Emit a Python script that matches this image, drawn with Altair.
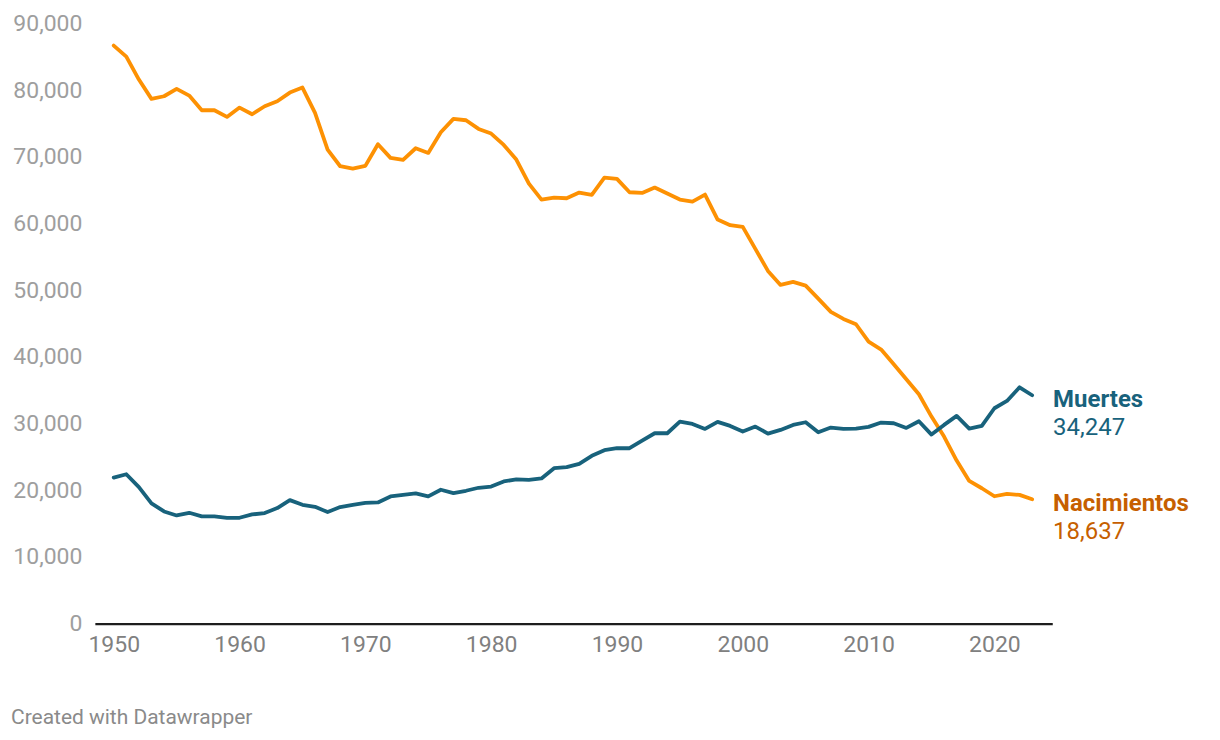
import altair as alt
import pandas as pd

years = list(range(1950, 2024))

nacimientos = [
    86700, 85050, 81600, 78700, 79100, 80200, 79200, 77000, 77000, 76000,
    77400, 76400, 77600, 78350, 79650, 80400, 76600, 71100, 68600, 68250,
    68650, 71900, 69850, 69550, 71300, 70600, 73700, 75700, 75500, 74200,
    73500, 71800, 69600, 66000, 63600, 63900, 63800, 64650, 64300, 66900,
    66700, 64700, 64600, 65400, 64500, 63600, 63300, 64350, 60600, 59750,
    59500, 56200, 52900, 50800, 51250, 50700, 48750, 46750, 45700, 44900,
    42300, 41100, 38900, 36650, 34400, 31050, 28050, 24450, 21400, 20300,
    19100, 19450, 19300, 18637,
]

muertes = [
    21900, 22400, 20470, 18020, 16820, 16220, 16620, 16070, 16070, 15870,
    15870, 16370, 16570, 17320, 18520, 17820, 17520, 16720, 17470, 17820,
    18120, 18170, 19070, 19320, 19520, 19070, 20070, 19570, 19920, 20370,
    20550, 21320, 21620, 21570, 21770, 23310, 23460, 23960, 25160, 26000,
    26300, 26300, 27450, 28550, 28550, 30300, 29950, 29200, 30250, 29650,
    28800, 29550, 28500, 29050, 29800, 30200, 28700, 29400, 29220, 29250,
    29500, 30150, 30050, 29350, 30350, 28350, 29800, 31150, 29250, 29650,
    32300, 33390, 35440, 34247,
]

series_names = ["Nacimientos", "Muertes"]
line_colors = ["#fd9103", "#18627c"]
label_colors = ["#c65f00", "#18627c"]
x_ticks = [1950, 1960, 1970, 1980, 1990, 2000, 2010, 2020]
y_ticks = [0, 10000, 20000, 30000, 40000, 50000, 60000, 70000, 80000, 90000]
credit = "Created with Datawrapper"

rows = []
for y, b, d in zip(years, nacimientos, muertes):
    rows.append({"year": y, "value": b, "series": "Nacimientos"})
    rows.append({"year": y, "value": d, "series": "Muertes"})
df = pd.DataFrame(rows)

last = pd.DataFrame({
    "series": series_names,
    "year": [years[-1], years[-1]],
    "value": [nacimientos[-1], muertes[-1]],
    "valtext": [f"{nacimientos[-1]:,}", f"{muertes[-1]:,}"],
    "lcolor": label_colors,
})

FONT = "Roboto"

xscale = alt.Scale(domain=[1948.5, 2024.6], nice=False, zero=False)
yscale = alt.Scale(domain=[0, 90000], nice=False)

base = alt.Chart(df)

lines = base.mark_line(strokeWidth=3.8, strokeJoin="round", strokeCap="round").encode(
    x=alt.X("year:Q", scale=xscale,
            axis=alt.Axis(values=x_ticks, format="d", title=None, grid=False,
                          ticks=False, domain=True, domainColor="#1d1d1d",
                          domainWidth=2.2, labelFontSize=23, labelColor="#808080",
                          labelFont=FONT, labelPadding=10, labelFlush=False)),
    y=alt.Y("value:Q", scale=yscale,
            axis=alt.Axis(values=y_ticks, format=",d", title=None, grid=False,
                          ticks=False, domain=False, labelFontSize=23,
                          labelColor="#9e9e9e", labelFont=FONT, labelPadding=13,
                          labelBaseline="middle")),
    color=alt.Color("series:N", scale=alt.Scale(domain=series_names, range=line_colors),
                    legend=None),
)

lab_base = alt.Chart(last).encode(
    x=alt.X("year:Q", scale=xscale),
    y=alt.Y("value:Q", scale=yscale),
    color=alt.Color("lcolor:N", scale=None),
)

names = lab_base.mark_text(align="left", baseline="middle", dx=21, dy=5,
                           font=FONT, fontSize=24, fontWeight="bold").encode(
    text="series:N")
vals = lab_base.mark_text(align="left", baseline="middle", dx=21, dy=33,
                          font=FONT, fontSize=24).encode(
    text="valtext:N")

credit_df = pd.DataFrame({"t": [credit]})
credit_mark = alt.Chart(credit_df).mark_text(
    align="left", baseline="middle", font=FONT, fontSize=21, color="#8a8a8a"
).encode(text="t:N", x=alt.value(-84), y=alt.value(696))

chart = alt.layer(lines, names, vals, credit_mark).properties(
    width=959,
    height=601,
    autosize=alt.AutoSizeParams(type="none"),
    padding={"left": 87, "top": 15, "right": 160, "bottom": 105},
    background="white",
).configure_view(stroke=None, strokeWidth=0)

chart.save("out.html", embed_options={"renderer": "svg", "actions": False})
